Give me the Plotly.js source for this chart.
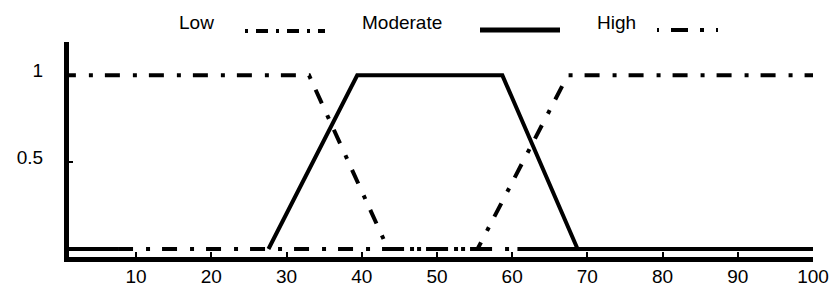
<!DOCTYPE html>
<html><head><meta charset="utf-8">
<script src="https://cdn.plot.ly/plotly-3.0.1.min.js"></script>
<style>body{margin:0;background:#fff}</style></head>
<body><div id="chart" style="width:830px;height:289px"></div>
<script>
// ---- data ----
const seriesNames = ["Low", "Moderate", "High"];
const lowX  = [0, 33, 43.5, 60.7];
const lowY  = [1, 1, 0, 0];
const modX  = [0, 7.6, null, 27.6, 39.4, 58.7, 68.7, null, 60.7, 100];
const modY  = [0, 0, null, 0, 1, 1, 0, null, 0, 0];
const highX = [7.6, 55.4, 67.4, 100];
const highY = [0, 0, 1, 1];
const xTickVals = [10, 20, 30, 40, 50, 60, 70, 80, 90, 100];
const yTickVals = [0.5, 1];
const yTickText = ["0.5", "1"];

// ---- layout ----
const W = 830, H = 289;
const M = {l: 69, r: 17, t: 42, b: 32};
const px2x = p => (p - M.l) / (W - M.l - M.r);
const px2y = p => (H - M.b - p) / (H - M.t - M.b);
const DASHDOT = "15px,13px,4px,12px";
const FONT = {family: "Liberation Sans, Arial, sans-serif", size: 19, color: "#000"};

const traces = [
  {x: lowX, y: lowY, name: seriesNames[0], mode: "lines",
   line: {color: "#000", width: 4, dash: DASHDOT}},
  {x: highX, y: highY, name: seriesNames[2], mode: "lines",
   line: {color: "#000", width: 4, dash: DASHDOT}},
  {x: modX, y: modY, name: seriesNames[1], mode: "lines", connectgaps: false,
   line: {color: "#000", width: 4}}
];

const legendItems = [
  {text: seriesNames[0], tx: 196, x0: 245, x1: 325, y: 31, dash: "3px,8px,12px,8px", w: 4},
  {text: seriesNames[1], tx: 402, x0: 480, x1: 560, y: 30, dash: "solid", w: 5},
  {text: seriesNames[2], tx: 616, x0: 657, x1: 730, y: 30, dash: "2px,12px,17px,12px,4px,12px", w: 4}
];

const annotations = legendItems.map(it => ({
  text: it.text, xref: "paper", yref: "paper", x: px2x(it.tx), y: px2y(23),
  xanchor: "center", yanchor: "middle", showarrow: false, font: FONT
}));
const shapes = legendItems.map(it => ({
  type: "line", xref: "paper", yref: "paper",
  x0: px2x(it.x0), x1: px2x(it.x1), y0: px2y(it.y), y1: px2y(it.y),
  line: {color: "#000", width: it.w, dash: it.dash}
}));

const layout = {
  width: W, height: H, margin: M,
  paper_bgcolor: "#fff", plot_bgcolor: "#fff",
  showlegend: false, font: FONT,
  xaxis: {range: [1.08, 100], showgrid: false, zeroline: false,
    showline: true, linecolor: "#000", linewidth: 5,
    tickmode: "array", tickvals: xTickVals,
    ticks: "inside", ticklen: 5, tickwidth: 2, tickcolor: "#000",
    tickfont: FONT, ticklabelstandoff: -2},
  yaxis: {range: [-0.046, 1.192], showgrid: false, zeroline: false,
    showline: true, linecolor: "#000", linewidth: 5,
    tickmode: "array", tickvals: yTickVals, ticktext: yTickText,
    ticks: "inside", ticklen: 4, tickwidth: 2, tickcolor: "#000",
    tickfont: FONT, ticklabelshift: -5, ticklabelstandoff: 17},
  annotations: annotations, shapes: shapes
};

Plotly.newPlot("chart", traces, layout, {displayModeBar: false, staticPlot: true});
</script></body></html>
